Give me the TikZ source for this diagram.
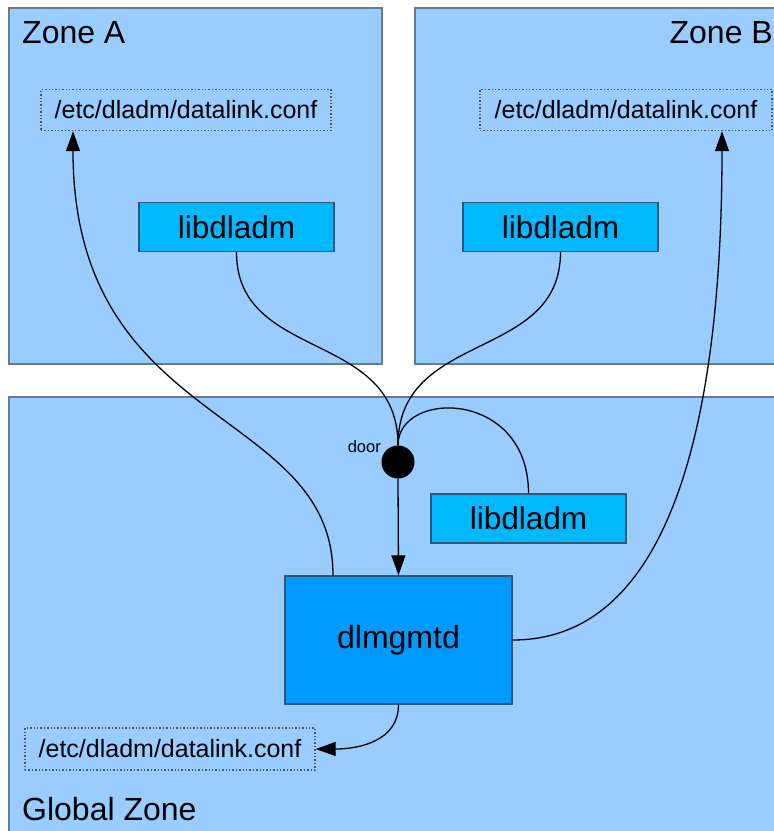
\documentclass[tikz,border=0pt]{standalone}
\usepackage{fontspec}
\setmainfont{Liberation Sans}
\usetikzlibrary{arrows.meta}
\definecolor{zonefill}{HTML}{99CCFF}
\definecolor{zoneline}{HTML}{6A7A8A}
\definecolor{libfill}{HTML}{00B8FF}
\definecolor{dlmfill}{HTML}{0099FF}
\definecolor{boxline}{HTML}{3A5570}
\definecolor{dotline}{HTML}{555555}
\tikzset{
  zone/.style={draw=zoneline, fill=zonefill, line width=1.5pt},
  zonelabel/.style={inner sep=0pt, font=\fontsize{32}{32}\selectfont},
  libbox/.style={draw=boxline, fill=libfill, line width=1.4pt, minimum width=195pt, minimum height=49pt, inner sep=0pt, font=\fontsize{31.5}{31.5}\selectfont},
  dlmbox/.style={draw=boxline, fill=dlmfill, line width=1.4pt, minimum width=227pt, minimum height=128pt, inner sep=0pt, font=\fontsize{32}{32}\selectfont},
  confbox/.style={draw=dotline, dotted, line width=1.4pt, minimum width=290pt, minimum height=41pt, inner sep=0pt, font=\fontsize{25}{25}\selectfont},
  doornode/.style={circle, fill=black, minimum size=33pt, inner sep=0pt},
  conn/.style={line width=1.3pt},
  arr/.style={conn, -{Triangle[length=20pt,width=14pt]}}
}
\begin{document}
\begin{tikzpicture}[x=1pt,y=-1pt]
\useasboundingbox (0,0) rectangle (774,831);
\fill[white] (0,0) rectangle (774,831);
\clip (0,0) rectangle (774,831);
% zones
\draw[zone] (9,8) rectangle (382,364);
\draw[zone] (415,8) rectangle (800,364);
\draw[zone] (9,397) rectangle (800,860);
\node[zonelabel, anchor=base west] (lblA) at (22,43) {Zone A};
\node[zonelabel, anchor=base east] (lblB) at (773,43) {Zone B};
\node[zonelabel, anchor=base west] (lblG) at (22,820) {Global Zone};
% boxes
\node[confbox] (confA) at (186,110) {/etc/dladm/datalink.conf};
\node[confbox, minimum width=292pt] (confB) at (626,110) {/etc/dladm/datalink.conf};
\node[confbox, minimum height=42pt] (confG) at (170,749) {/etc/dladm/datalink.conf};
\node[libbox] (libA) at (236.5,227) {libdladm};
\node[libbox] (libB) at (560.5,227) {libdladm};
\node[libbox] (libG) at (528.5,518.5) {libdladm};
\node[dlmbox] (dlm) at (398.5,640) {dlmgmtd};
\node[doornode] (door) at (398,462) {};
\node[anchor=base east, inner sep=0pt, font=\fontsize{16.5}{16.5}\selectfont] (doorlbl) at (381,452) {door};
% connectors
\draw[conn] (libA.south) .. controls +(0,110) and +(0,-116) .. (door.north);
\draw[conn] (libB.south) .. controls +(0,110) and +(0,-116) .. (door.north);
\draw[conn] (libG.north) .. controls +(0,-104) and +(0,-56) .. (door.north);
\draw[arr] (door.south) -- (dlm.north);
\draw[arr] ([xshift=-65.5pt]dlm.north) .. controls +(0,-170) and +(0,300) .. ([xshift=-113pt]confA.south);
\draw[arr] (dlm.east) .. controls +(165,0) and +(0,270) .. ([xshift=96pt]confB.south);
\draw[arr] (dlm.south) .. controls +(0,36) and +(44,0) .. (confG.east);
\end{tikzpicture}
\end{document}
